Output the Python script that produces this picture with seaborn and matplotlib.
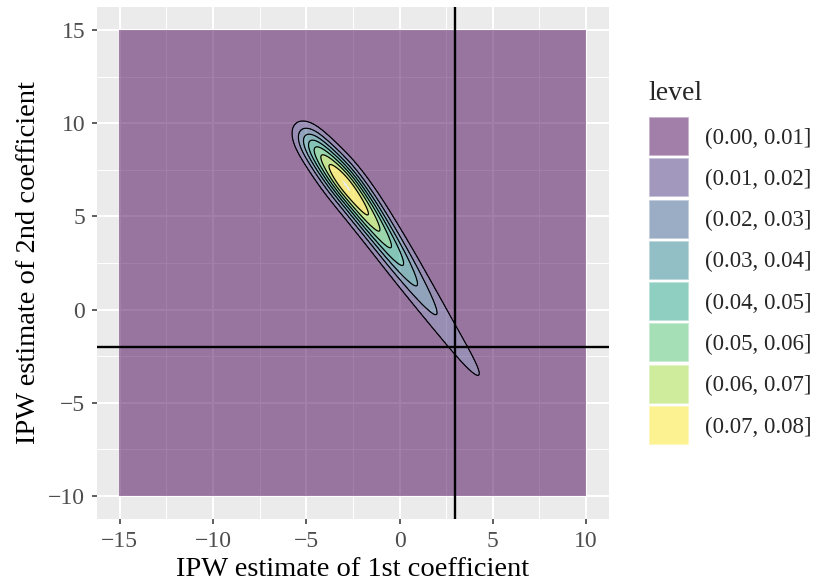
import matplotlib
matplotlib.use("Agg")
import matplotlib.pyplot as plt
from matplotlib.patches import Patch
import numpy as np
import seaborn as sns

# density surface: a few gaussian bumps laid along the main axis of the ridge
# (t = position along the axis from the peak, s = offset across it)
comp_t = [-3.3, -2.2, -0.8, 0.8, 2.8, 5.3, 8.3, 11.8, 15.5]
comp_s = [0.0, 0.05, 0.15, 0.25, 0.25, 0.15, 0.05, 0.0, 0.0]
comp_sd_t = [0.8, 0.9, 1.1, 1.4, 1.8, 2.2, 2.6, 2.9, 3.0]
comp_sd_s = [0.52, 0.52, 0.57, 0.57, 0.54, 0.52, 0.52, 0.52, 0.52]
comp_amp = [0.01814, 0.02854, 0.04233, 0.04221, 0.03438, 0.02139, 0.00815, 0.00754, 0.00015]

peak = (-3.0, 6.5)
axis_u = (0.585, -0.811)

levels = [0.0, 0.01, 0.02, 0.03, 0.04, 0.05, 0.06, 0.07, 0.08]
level_labels = ["(0.00, 0.01]", "(0.01, 0.02]", "(0.02, 0.03]", "(0.03, 0.04]",
                "(0.04, 0.05]", "(0.05, 0.06]", "(0.06, 0.07]", "(0.07, 0.08]"]
viridis8 = ["#440154", "#46337E", "#365C8D", "#277F8E", "#1FA187", "#4AC16D", "#9FDA3A", "#FDE725"]

x_true = 3
y_true = -2

sns.set_theme(style="darkgrid", rc={"axes.facecolor": "#EBEBEB"})
plt.rcParams["font.family"] = ["Liberation Serif", "DejaVu Serif"]

fig = plt.figure(figsize=(8.18, 5.87), dpi=100)
ax = fig.add_axes([96.5 / 818, 1 - 519.3 / 587, 512.8 / 818, 512.6 / 587])

# evaluate density on the grid [-15, 10] x [-10, 15]
xs = np.linspace(-15, 10, 600)
ys = np.linspace(-10, 15, 600)
X, Y = np.meshgrid(xs, ys)
dx, dy = X - peak[0], Y - peak[1]
T = dx * axis_u[0] + dy * axis_u[1]
S = -dx * axis_u[1] + dy * axis_u[0]
Z = np.zeros_like(X)
for a, c, o, st, ss in zip(comp_amp, comp_t, comp_s, comp_sd_t, comp_sd_s):
    Z += a * np.exp(-(T - c) ** 2 / (2 * st ** 2) - (S - o) ** 2 / (2 * ss ** 2))

ax.contourf(X, Y, Z, levels=levels, colors=viridis8, alpha=0.5, zorder=2)
ax.contour(X, Y, Z, levels=levels[1:-1], colors="black", linewidths=0.85, zorder=3)
ax.axvline(x_true, color="black", lw=1.7, zorder=4)
ax.axhline(y_true, color="black", lw=1.7, zorder=4)

ax.set_xlim(-16.25, 11.25)
ax.set_ylim(-11.25, 16.25)
ax.set_xticks([-15, -10, -5, 0, 5, 10])
ax.set_yticks([-10, -5, 0, 5, 10, 15])
ax.set_xticks([-12.5, -7.5, -2.5, 2.5, 7.5], minor=True)
ax.set_yticks([-7.5, -2.5, 2.5, 7.5, 12.5], minor=True)
ax.grid(which="major", color="white", lw=1.45)
ax.grid(which="minor", color="white", lw=0.7)
ax.set_axisbelow(True)
for sp in ax.spines.values():
    sp.set_visible(False)
ax.tick_params(which="major", length=3.6, width=1.1, color="#333333", labelsize=17,
               labelcolor="#4D4D4D", pad=4.5, bottom=True, left=True)
ax.tick_params(which="minor", length=0)
ax.set_xlabel("IPW estimate of 1st coefficient", fontsize=20.5, color="black", labelpad=4)
ax.set_ylabel("IPW estimate of 2nd coefficient", fontsize=20.5, color="black", labelpad=5)

# legend
handles = [Patch(facecolor=c, alpha=0.5, edgecolor="white", linewidth=1.2) for c in viridis8]
fig.text(648 / 818, 1 - 100 / 587, "level", fontsize=20, ha="left", va="baseline")
fig.legend(handles, level_labels, loc="upper left",
           bbox_to_anchor=(649 / 818, 1 - 117 / 587), frameon=False, borderpad=0,
           borderaxespad=0, fontsize=16.5, handlelength=1.75, handleheight=2.24,
           labelspacing=0.1, handletextpad=0.7)

fig.savefig("out.png", dpi=100)
